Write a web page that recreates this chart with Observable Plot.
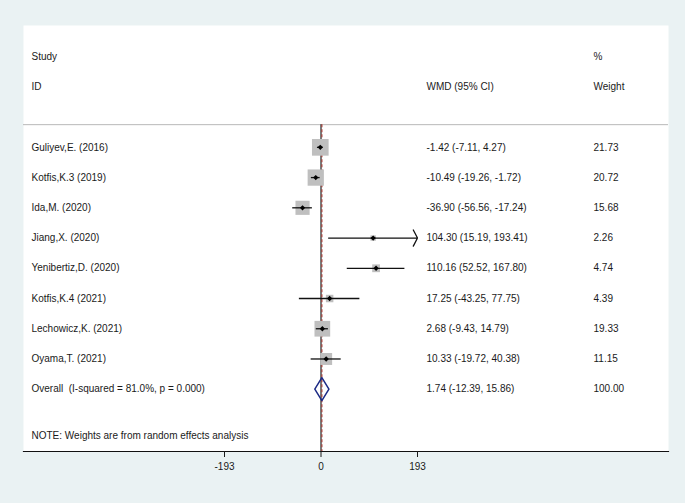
<!DOCTYPE html>
<html>
<head>
<meta charset="utf-8">
<script src="https://cdn.jsdelivr.net/npm/d3@7"></script>
<script src="https://cdn.jsdelivr.net/npm/@observablehq/plot@0.6"></script>
<style>
  html, body { margin: 0; padding: 0; background: #eaf2f3; }
  #chart svg { display: block; }
</style>
</head>
<body>
<div id="chart"></div>
<script>
// ---- data ----
const studies = ["Guliyev,E. (2016)", "Kotfis,K.3 (2019)", "Ida,M. (2020)", "Jiang,X. (2020)",
  "Yenibertiz,D. (2020)", "Kotfis,K.4 (2021)", "Lechowicz,K. (2021)", "Oyama,T. (2021)"];
const wmd = [-1.42, -10.49, -36.90, 104.30, 110.16, 17.25, 2.68, 10.33];
const lower = [-7.11, -19.26, -56.56, 15.19, 52.52, -43.25, -9.43, -19.72];
const upper = [4.27, -1.72, -17.24, 193.41, 167.80, 77.75, 14.79, 40.38];
const weights = [21.73, 20.72, 15.68, 2.26, 4.74, 4.39, 19.33, 11.15];
const overallLabel = "Overall\u00a0\u00a0(I-squared = 81.0%, p = 0.000)";
const overallEst = 1.74, overallLower = -12.39, overallUpper = 15.86, overallWeight = 100.00;
const tickValues = [-193, 0, 193];
const noteText = "NOTE: Weights are from random effects analysis";

// ---- layout helpers (row indices) ----
const firstRow = 3;
const rows = studies.map((s, i) => ({
  study: s, est: wmd[i], lo: lower[i], hi: upper[i], w: weights[i], row: firstRow + i
}));
const overallRow = firstRow + studies.length;
const noteRow = overallRow + 1.55;
const axisMax = tickValues[tickValues.length - 1];
const inRange = rows.filter(d => d.hi <= axisMax && d.lo >= -axisMax);
const clipped = rows.filter(d => d.hi > axisMax).map(d => ({...d, hiClip: axisMax}));
const dh = 0.38;
const diamond = [
  {x: overallLower, y: overallRow},
  {x: overallEst, y: overallRow - dh},
  {x: overallUpper, y: overallRow},
  {x: overallEst, y: overallRow + dh},
  {x: overallLower, y: overallRow}
];
const fmt = v => v.toFixed(2);
const estText = rows.map(d => ({row: d.row, t: `${fmt(d.est)} (${fmt(d.lo)}, ${fmt(d.hi)})`}));
const textColor = "#1a1a1a";
const font = "'Liberation Sans', Arial, Helvetica, sans-serif";

const chart = Plot.plot({
  width: 685,
  height: 503,
  marginLeft: 23,
  marginRight: 17,
  marginTop: 25,
  marginBottom: 52,
  style: {background: "#eaf2f3", fontFamily: font, fontSize: "10px", color: textColor},
  x: {domain: [-595, 695], ticks: tickValues, tickFormat: d => String(d), label: null},
  y: {domain: [-1.03, 13.06], reverse: true, axis: null},
  r: {type: "sqrt", domain: [0, 21.73], range: [0, 9.4]},
  marks: [
    Plot.frame({fill: "white", stroke: null}),
    Plot.ruleY([2.25], {stroke: "#b8b8b8", strokeWidth: 1}),
    Plot.ruleX([0], {y1: 2.25, y2: 13.06, stroke: "#222", strokeWidth: 1.2}),
    Plot.ruleX([overallEst], {y1: 2.25, y2: 13.06, stroke: "#a8403a", strokeWidth: 1.2, strokeDasharray: "3,2"}),
    Plot.dot(rows, {x: "est", y: "row", r: "w", symbol: "square", fill: "#bfbfbf", stroke: null}),
    Plot.ruleY(inRange, {x1: "lo", x2: "hi", y: "row", stroke: "#111", strokeWidth: 1.3}),
    Plot.arrow(clipped, {x1: "lo", x2: "hiClip", y1: "row", y2: "row", stroke: "#111", strokeWidth: 1.3, headAngle: 125, headLength: 10.5}),
    Plot.dot(rows, {x: "est", y: "row", r: 2.4, symbol: "diamond2", fill: "#000", stroke: null}),
    Plot.line(diamond, {x: "x", y: "y", stroke: "#1c2a85", strokeWidth: 1.5}),
    // column headers
    Plot.text(["Study"], {frameAnchor: "left", y: 0, dx: 8, text: d => d, textAnchor: "start", fill: textColor}),
    Plot.text(["ID"], {frameAnchor: "left", y: 1, dx: 8, text: d => d, textAnchor: "start", fill: textColor}),
    Plot.text(["WMD (95% CI)"], {frameAnchor: "left", y: 1, dx: 403, text: d => d, textAnchor: "start", fill: textColor}),
    Plot.text(["%"], {frameAnchor: "left", y: 0, dx: 570, text: d => d, textAnchor: "start", fill: textColor}),
    Plot.text(["Weight"], {frameAnchor: "left", y: 1, dx: 570, text: d => d, textAnchor: "start", fill: textColor}),
    // study rows
    Plot.text(rows, {frameAnchor: "left", y: "row", dx: 8, text: "study", textAnchor: "start", fill: textColor}),
    Plot.text(estText, {frameAnchor: "left", y: "row", dx: 403, text: "t", textAnchor: "start", fill: textColor}),
    Plot.text(rows, {frameAnchor: "left", y: "row", dx: 570, text: d => fmt(d.w), textAnchor: "start", fill: textColor}),
    // overall row
    Plot.text([overallLabel], {frameAnchor: "left", y: overallRow, dx: 8, text: d => d, textAnchor: "start", fill: textColor}),
    Plot.text([`${fmt(overallEst)} (${fmt(overallLower)}, ${fmt(overallUpper)})`], {frameAnchor: "left", y: overallRow, dx: 403, text: d => d, textAnchor: "start", fill: textColor}),
    Plot.text([fmt(overallWeight)], {frameAnchor: "left", y: overallRow, dx: 570, text: d => d, textAnchor: "start", fill: textColor}),
    Plot.text([noteText], {frameAnchor: "left", y: noteRow, dx: 8, text: d => d, textAnchor: "start", fill: textColor}),
    // axis
    Plot.frame({anchor: "bottom", stroke: "#111", strokeWidth: 1.2}),
    Plot.axisX({ticks: tickValues, tickSize: 6, tickPadding: 5, tickFormat: d => String(d), label: null, fill: textColor})
  ]
});
document.getElementById("chart").appendChild(chart);
</script>
</body>
</html>
